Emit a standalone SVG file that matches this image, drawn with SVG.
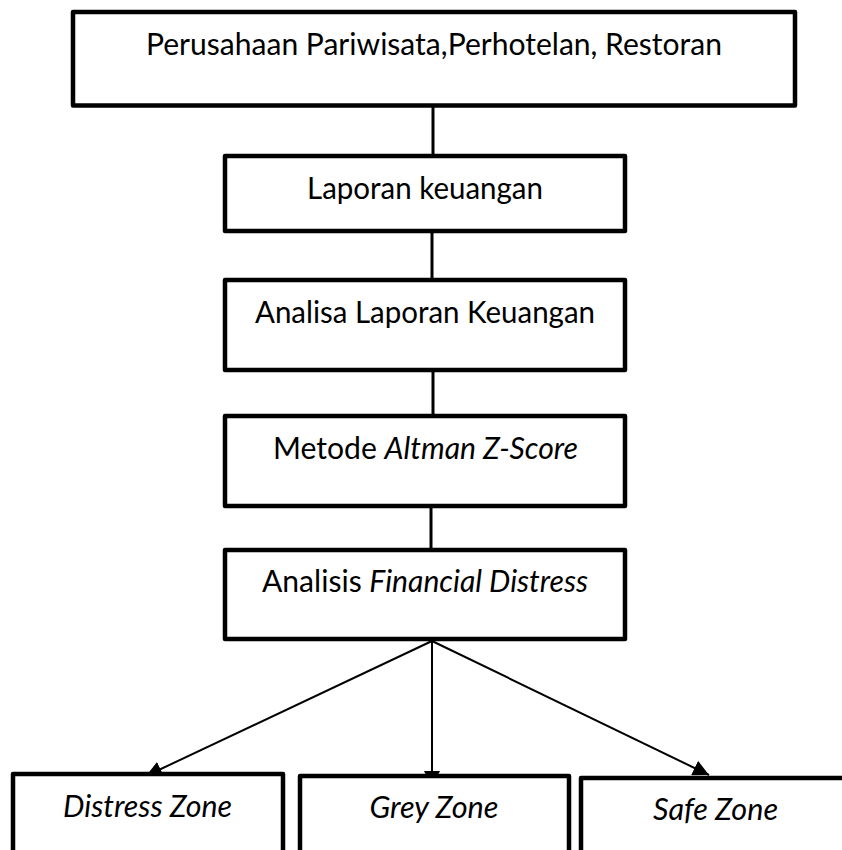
<svg xmlns="http://www.w3.org/2000/svg" width="842" height="850" viewBox="0 0 842 850">
  <style>
    .box { fill: #ffffff; stroke: #000000; stroke-width: 4.5; stroke-linejoin: round; }
    .lbl { font-family: Lato, "Open Sans", "Liberation Sans", sans-serif; font-size: 30px; fill: #000000; text-anchor: middle; }
    .it { font-style: italic; }
    .vline { stroke: #000000; stroke-width: 3; fill: none; }
    .arr { stroke: #000000; stroke-width: 2; fill: none; marker-end: url(#ah); }
  </style>
  <defs>
    <marker id="ah" markerUnits="userSpaceOnUse" markerWidth="16" markerHeight="16" refX="16" refY="8" orient="auto">
      <path d="M0,0 L16,8 L0,16 Z" fill="#000000"/>
    </marker>
  </defs>
  <rect width="842" height="850" fill="#ffffff"/>

  <g id="connectors">
    <line class="vline" x1="433" y1="105" x2="433" y2="156"/>
    <line class="vline" x1="432" y1="231" x2="432" y2="280"/>
    <line class="vline" x1="433" y1="370" x2="433" y2="416"/>
    <line class="vline" x1="431" y1="506" x2="431" y2="550"/>
    <line class="arr" x1="432" y1="641" x2="146" y2="776"/>
    <line class="arr" x1="432" y1="641" x2="432" y2="787"/>
    <line class="arr" x1="432" y1="641" x2="709" y2="775"/>
  </g>

  <g id="node-perusahaan">
    <rect class="box" x="73" y="12" width="722" height="93.5"/>
    <text class="lbl" x="434" y="55" textLength="576" lengthAdjust="spacingAndGlyphs">Perusahaan Pariwisata,Perhotelan, Restoran</text>
  </g>
  <g id="node-laporan">
    <rect class="box" x="225" y="156" width="400" height="75"/>
    <text class="lbl" x="425" y="199" textLength="236" lengthAdjust="spacingAndGlyphs">Laporan keuangan</text>
  </g>
  <g id="node-analisa">
    <rect class="box" x="225" y="280" width="400" height="90"/>
    <text class="lbl" x="425" y="323" textLength="340" lengthAdjust="spacingAndGlyphs">Analisa Laporan Keuangan</text>
  </g>
  <g id="node-metode">
    <rect class="box" x="225" y="416" width="400" height="90"/>
    <text class="lbl" x="425.5" y="459" textLength="305" lengthAdjust="spacingAndGlyphs">Metode <tspan class="it">Altman Z-Score</tspan></text>
  </g>
  <g id="node-analisis">
    <rect class="box" x="225" y="550" width="400" height="89"/>
    <text class="lbl" x="425" y="592" textLength="326" lengthAdjust="spacingAndGlyphs">Analisis <tspan class="it">Financial Distress</tspan></text>
  </g>
  <g id="node-distress">
    <rect class="box" x="13" y="774" width="270" height="110"/>
    <text class="lbl it" x="147.5" y="817" textLength="169" lengthAdjust="spacingAndGlyphs">Distress Zone</text>
  </g>
  <g id="node-grey">
    <rect class="box" x="300" y="776" width="269" height="110"/>
    <text class="lbl it" x="434" y="818" textLength="129" lengthAdjust="spacingAndGlyphs">Grey Zone</text>
  </g>
  <g id="node-safe">
    <rect class="box" x="581" y="778" width="280" height="110"/>
    <text class="lbl it" x="715.5" y="820" textLength="125" lengthAdjust="spacingAndGlyphs">Safe Zone</text>
  </g>
</svg>
